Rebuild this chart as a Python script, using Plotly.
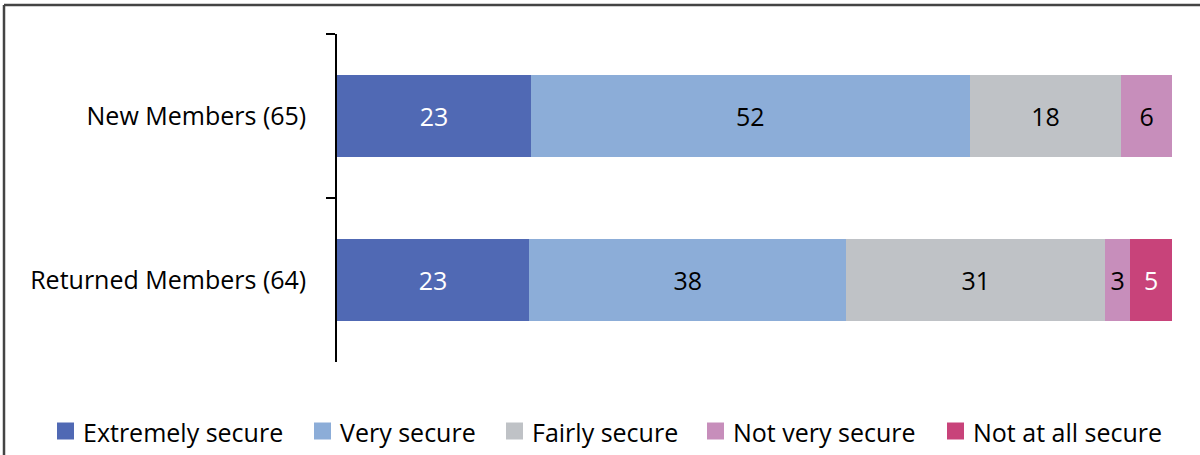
import plotly.graph_objects as go

# Survey results: how secure members feel (counts shown in segments, bars normalised to 100%)
groups = ["New Members (65)", "Returned Members (64)"]
series_names = ["Extremely secure", "Very secure", "Fairly secure", "Not very secure", "Not at all secure"]
extremely_secure = [23, 23]
very_secure = [52, 38]
fairly_secure = [18, 31]
not_very_secure = [6, 3]
not_at_all_secure = [None, 5]

series_values = [extremely_secure, very_secure, fairly_secure, not_very_secure, not_at_all_secure]
colors = ["#5069B4", "#8CADD8", "#BFC2C6", "#C78EBB", "#C8437A"]
label_colors = ["white", "black", "black", "black", "white"]

FONT = "Open Sans"
FS = 25
W, H = 1200, 455
ML, MR, MT, MB = 337, 28, 34, 93

fig = go.Figure()
for name, vals, col, lcol in zip(series_names, series_values, colors, label_colors):
    fig.add_trace(go.Bar(
        y=groups,
        x=vals,
        name=name,
        orientation="h",
        marker=dict(color=col, line=dict(width=0)),
        text=["" if v is None else str(v) for v in vals],
        textposition="inside",
        insidetextanchor="middle",
        textangle=0,
        textfont=dict(color=lcol, size=FS, family=FONT),
        constraintext="none",
        showlegend=False,
    ))

fig.update_layout(
    width=W, height=H,
    margin=dict(l=ML, r=MR, t=MT, b=MB, autoexpand=False),
    barmode="stack",
    barnorm="percent",
    bargap=0.5,
    plot_bgcolor="white",
    paper_bgcolor="white",
    font=dict(family=FONT, size=FS, color="black"),
    showlegend=False,
    xaxis=dict(
        range=[0, 100],
        visible=False,
        showgrid=False,
        zeroline=False,
    ),
    yaxis=dict(
        autorange="reversed",
        showline=True,
        linecolor="black",
        linewidth=1.5,
        ticks="outside",
        tickson="boundaries",
        ticklen=9,
        tickwidth=1.5,
        tickcolor="black",
        ticklabelstandoff=24,
        tickfont=dict(size=FS, family=FONT),
        showgrid=False,
        zeroline=False,
    ),
)

# pixel -> paper coordinate helpers
pw, ph = W - ML - MR, H - MT - MB
def px_x(x):
    return (x - ML) / pw
def px_y(y):
    return (H - MB - y) / ph

# Legend row along the bottom: square swatch followed by its label
legend_left = [57, 314, 506, 707, 947]
legend_mid_y = 432
swatch = 17
for name, col, lx in zip(series_names, colors, legend_left):
    fig.add_shape(type="rect", xref="paper", yref="paper",
                  x0=px_x(lx), x1=px_x(lx + swatch),
                  y0=px_y(legend_mid_y - swatch / 2 - 1), y1=px_y(legend_mid_y + swatch / 2 - 1),
                  fillcolor=col, line=dict(width=0))
    fig.add_annotation(xref="paper", yref="paper",
                       x=px_x(lx + swatch + 7), y=px_y(legend_mid_y),
                       xanchor="left", yanchor="middle",
                       text=name, showarrow=False,
                       font=dict(size=FS, family=FONT, color="black"))

# Outer frame: top and left edges of the chart box
fig.add_shape(type="line", xref="paper", yref="paper",
              x0=px_x(4), x1=px_x(1200), y0=px_y(5), y1=px_y(5),
              line=dict(color="#444444", width=2.5))
fig.add_shape(type="line", xref="paper", yref="paper",
              x0=px_x(4), x1=px_x(4), y0=px_y(5), y1=px_y(455),
              line=dict(color="#444444", width=2.5))

fig.write_html("out.html")
